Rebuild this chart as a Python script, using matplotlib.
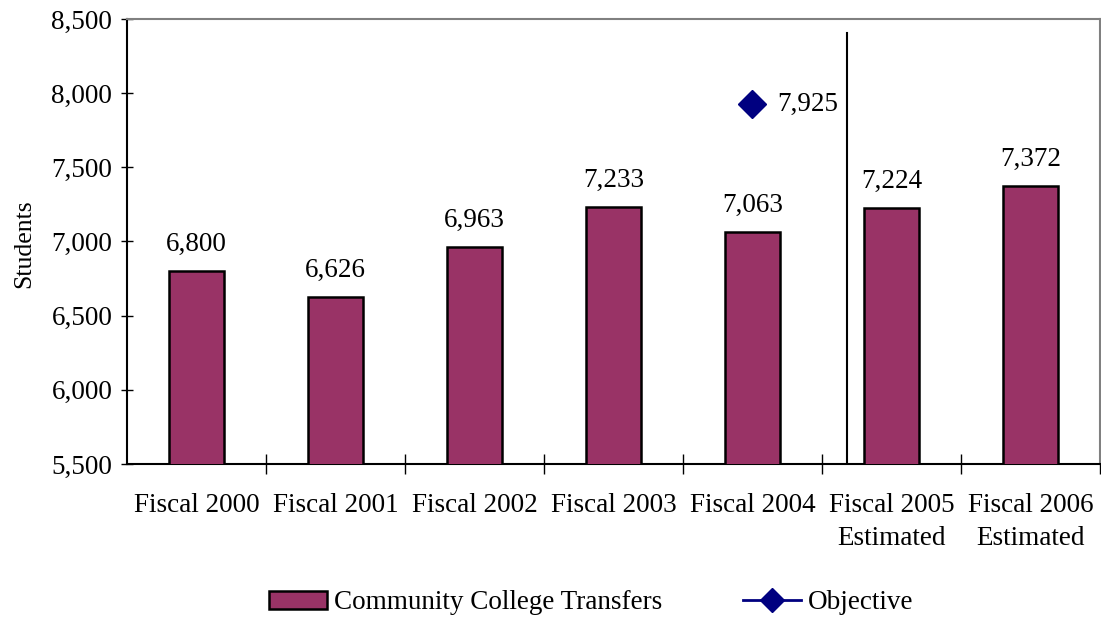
import matplotlib.pyplot as plt
from matplotlib.lines import Line2D
from matplotlib.patches import Patch

plt.rcParams['font.family'] = ['Liberation Serif', 'DejaVu Serif']

categories = ["Fiscal 2000", "Fiscal 2001", "Fiscal 2002", "Fiscal 2003",
              "Fiscal 2004", "Fiscal 2005\nEstimated", "Fiscal 2006\nEstimated"]
transfers = [6800, 6626, 6963, 7233, 7063, 7224, 7372]
objective_idx = 4
objective_val = 7925
yticks = [5500, 6000, 6500, 7000, 7500, 8000, 8500]

FS = 19.5

fig = plt.figure(figsize=(11.01, 6.17), dpi=100)
ax = fig.add_axes([0.1153, 0.248, 0.8837, 0.7212])

xs = list(range(len(categories)))
ax.bar(xs, transfers, width=0.4, bottom=0, color="#993366",
       edgecolor="black", linewidth=1.8, zorder=3)
for x, v in zip(xs, transfers):
    ax.annotate(f"{v:,}", (x, v), xytext=(0, 14.5), textcoords="offset points",
                ha="center", va="baseline", fontsize=FS)

ax.plot([objective_idx], [objective_val], marker="D", color="#000080",
        markersize=14, linestyle="none", zorder=4)
ax.annotate(f"{objective_val:,}", (objective_idx, objective_val), xytext=(18, 0),
            textcoords="offset points", ha="left", va="center", fontsize=FS)

# divider between actual and estimated years
ax.plot([4.678, 4.678], [5500, 8405], color="black", linewidth=1.5, zorder=2)

ax.set_xlim(-0.5, len(categories) - 0.5)
ax.set_ylim(5500, 8500)
ax.set_yticks(yticks)
ax.set_yticklabels([f"{t:,}" for t in yticks], fontsize=FS)
ax.set_xticks([x + 0.5 for x in xs])
ax.set_xticklabels([])
ax.set_xticks(xs, minor=True)
ax.set_xticklabels(categories, minor=True, fontsize=FS, linespacing=1.4)
ax.tick_params(axis="x", which="minor", length=0, pad=21)
ax.tick_params(axis="x", which="major", direction="inout", length=14, width=1)
ax.tick_params(axis="y", direction="inout", length=9, width=1, pad=6)
ax.set_ylabel("Students", fontsize=FS - 1)
ax.yaxis.set_label_coords(-0.094, 0.494)

for s in ["left", "bottom"]:
    ax.spines[s].set_color("black")
    ax.spines[s].set_linewidth(1.5)
for s in ["top", "right"]:
    ax.spines[s].set_color("#808080")
    ax.spines[s].set_linewidth(1.5)

handles = [Patch(facecolor="#993366", edgecolor="black", linewidth=1.8),
           Line2D([0], [0], color="#000080", marker="D", markersize=12, linewidth=2)]
fig.legend(handles, ["Community College Transfers", "Objective"],
           loc="center", bbox_to_anchor=(0.537, 0.0227), ncol=2, frameon=False,
           fontsize=FS, handlelength=2.15, handleheight=0.7, handletextpad=0.25,
           columnspacing=3.0)

fig.savefig("out.png", dpi=100)
